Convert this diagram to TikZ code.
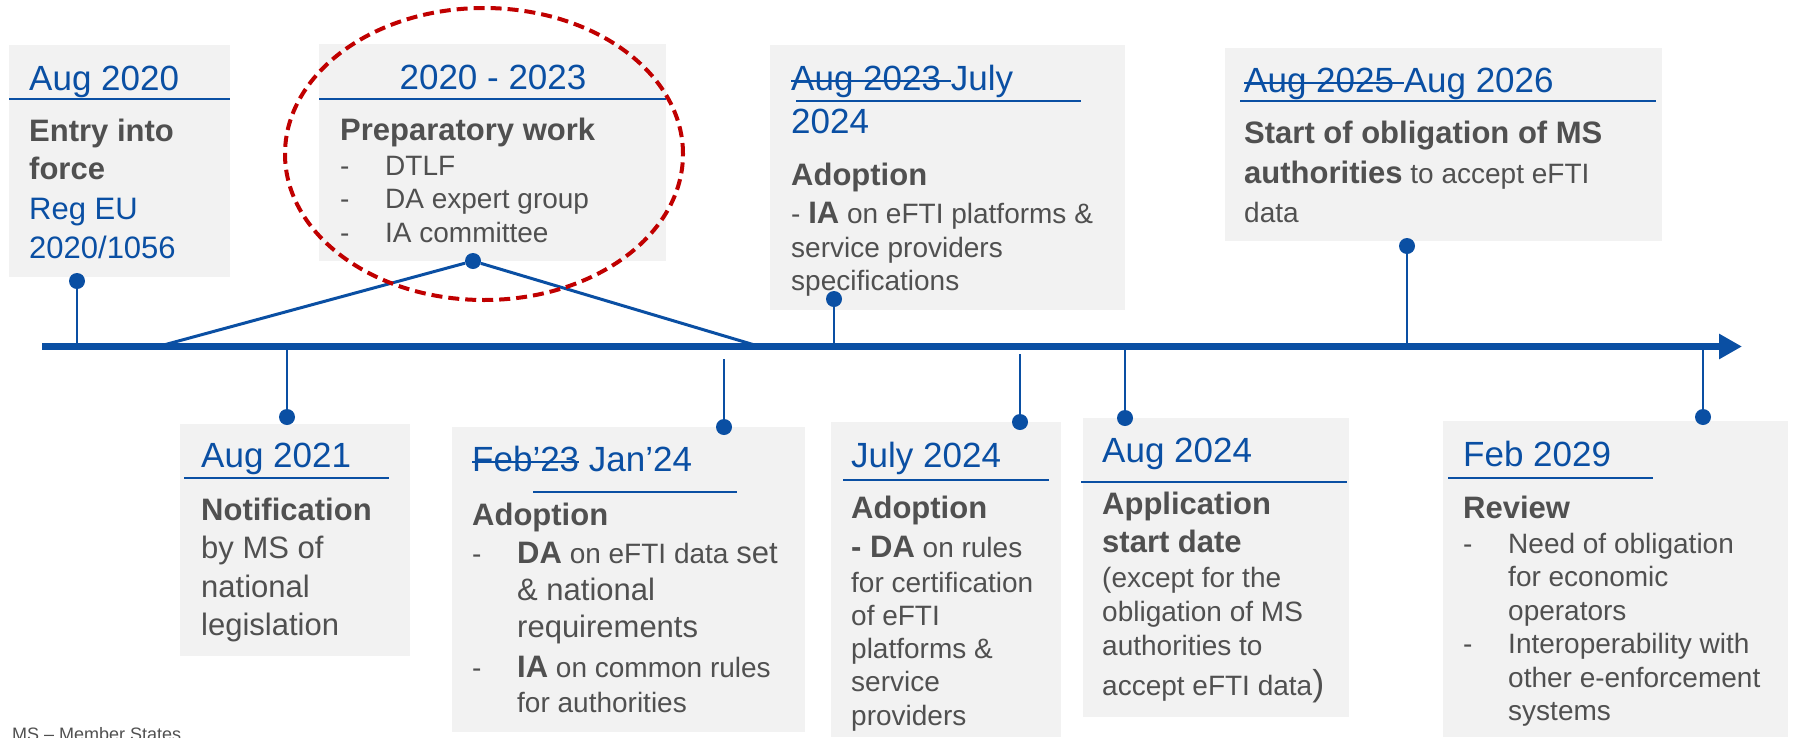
\documentclass[tikz,border=0pt]{standalone}
\usepackage{fontspec}
\setmainfont{Liberation Sans}
\usetikzlibrary{arrows.meta,shapes.geometric}
\definecolor{eblue}{HTML}{0A4FA3}
\definecolor{tgray}{HTML}{505050}
\definecolor{boxgray}{HTML}{F2F2F2}
\definecolor{ered}{HTML}{C00000}
\newcommand\bigbold[1]{{\bfseries\fontsize{31}{38}\selectfont #1}}
\newsavebox\strikebox
\newcommand\strikeout[1]{\sbox\strikebox{#1}\rlap{\rule[0.24em]{\wd\strikebox}{1.8pt}}\usebox\strikebox}
\begin{document}
\begin{tikzpicture}[x=1pt,y=-1pt,
  tbox/.style={fill=boxgray, draw=none, anchor=north west, inner sep=0pt, outer sep=0pt},
  ttl/.style={anchor=base west, inner sep=0pt, text=eblue, font=\fontsize{35}{43}\selectfont},
  hd/.style={anchor=base west, inner sep=0pt, text=tgray, font=\bfseries\fontsize{31}{38}\selectfont},
  bd/.style={anchor=base west, inner sep=0pt, text=tgray, font=\fontsize{28}{33.5}\selectfont},
  bdl/.style={anchor=base west, inner sep=0pt, text=tgray, font=\fontsize{31}{38.5}\selectfont},
  uline/.style={draw=eblue, line width=2pt},
  stem/.style={draw=eblue, line width=2.5pt},
  dot/.style={circle, fill=eblue, inner sep=0pt, minimum size=16pt},
]
\path[use as bounding box] (0,0) rectangle (1796,737);

% ---------- boxes ----------
\node[tbox, minimum width=221pt, minimum height=232pt] (box1) at (9,45) {};
\node[tbox, minimum width=347pt, minimum height=217pt] (box2) at (319,44) {};
\node[tbox, minimum width=355pt, minimum height=265pt] (box3) at (770,45) {};
\node[tbox, minimum width=437pt, minimum height=193pt] (box4) at (1225,48) {};
\node[tbox, minimum width=230pt, minimum height=232pt] (box5) at (180,424) {};
\node[tbox, minimum width=353pt, minimum height=305pt] (box6) at (452,427) {};
\node[tbox, minimum width=230pt, minimum height=315pt] (box7) at (831,422) {};
\node[tbox, minimum width=266pt, minimum height=299pt] (box8) at (1083,418) {};
\node[tbox, minimum width=345pt, minimum height=316pt] (box9) at (1443,421) {};

% ---------- box 1 ----------
\node[ttl] (t1) at (29,90) {Aug 2020};
\draw[uline] (9,99) -- (230,99);
\node[hd] (b1a) at (29,141) {Entry into};
\node[hd] (b1b) at (29,179) {force};
\node[bdl, text=eblue] (b1c) at (29,219) {Reg EU};
\node[bdl, text=eblue] (b1d) at (29,258) {2020/1056};

% ---------- box 2 ----------
\node[ttl, anchor=base] (t2) at (493,89) {2020 - 2023};
\draw[uline] (319,99) -- (666,99);
\node[hd] (h2) at (340,140) {Preparatory work};
\node[bd] (d2a) at (340,175) {-};
\node[bd] (d2b) at (340,208.5) {-};
\node[bd] (d2c) at (340,242) {-};
\node[bd] (b2a) at (385,175) {DTLF};
\node[bd] (b2b) at (385,208.5) {DA expert group};
\node[bd] (b2c) at (385,242) {IA committee};

% ---------- box 3 ----------
\node[ttl] (t3a) at (791,90) {\strikeout{Aug 2023 }July};
\node[ttl] (t3b) at (791,133) {2024};
\draw[uline] (796,101) -- (1081,101);
\node[hd] (h3) at (791,185) {Adoption};
\node[bd] (b3a) at (791,223) {- \bigbold{IA} on eFTI platforms \&};
\node[bd] (b3b) at (791,257) {service providers};
\node[bd] (b3c) at (791,290) {specifications};

% ---------- box 4 ----------
\node[ttl] (t4) at (1244,92) {\strikeout{Aug 2025 }Aug 2026};
\draw[uline] (1240,101) -- (1656,101);
\node[hd] (h4) at (1244,143) {Start of obligation of MS};
\node[bd] (b4a) at (1244,183) {\bigbold{authorities} to accept eFTI};
\node[bd] (b4b) at (1244,222) {data};

% ---------- box 5 ----------
\node[ttl] (t5) at (201,467) {Aug 2021};
\draw[uline] (184,478) -- (389,478);
\node[hd] (h5) at (201,520) {Notification};
\node[bdl] (b5a) at (201,558.5) {by MS of};
\node[bdl] (b5b) at (201,597) {national};
\node[bdl] (b5c) at (201,635.5) {legislation};

% ---------- box 6 ----------
\node[ttl] (t6) at (472,471) {\strikeout{Feb’23} Jan’24};
\draw[uline] (533,492) -- (737,492);
\node[hd] (h6) at (472,525) {Adoption};
\node[bd] (d6a) at (472,563) {-};
\node[bd] (d6b) at (472,677) {-};
\node[bd] (b6a) at (517,563) {\bigbold{DA} on eFTI data {\fontsize{31}{38}\selectfont set}};
\node[bdl] (b6b) at (517,600) {\& national};
\node[bdl] (b6c) at (517,637) {requirements};
\node[bd] (b6d) at (517,677) {\bigbold{IA} on common rules};
\node[bd] (b6e) at (517,712) {for authorities};

% ---------- box 7 ----------
\node[ttl] (t7) at (851,467) {July 2024};
\draw[uline] (843,480) -- (1049,480);
\node[hd] (h7) at (851,518) {Adoption};
\node[bd] (b7a) at (851,557) {\bigbold{- DA} on rules};
\node[bd] (b7b) at (851,592) {for certification};
\node[bd] (b7c) at (851,625.3) {of eFTI};
\node[bd] (b7d) at (851,658.6) {platforms \&};
\node[bd] (b7e) at (851,691.9) {service};
\node[bd] (b7f) at (851,725.2) {providers};

% ---------- box 8 ----------
\node[ttl] (t8) at (1102,462) {Aug 2024};
\draw[uline] (1081,482) -- (1347,482);
\node[hd] (h8a) at (1102,514) {Application};
\node[hd] (h8b) at (1102,552) {start date};
\node[bd] (b8a) at (1102,587) {(except for the};
\node[bd] (b8b) at (1102,621) {obligation of MS};
\node[bd] (b8c) at (1102,655) {authorities to};
\node[bd] (b8d) at (1102,695) {accept eFTI data{\fontsize{36}{40}\selectfont)}};

% ---------- box 9 ----------
\node[ttl] (t9) at (1463,466) {Feb 2029};
\draw[uline] (1448,478) -- (1653,478);
\node[hd] (h9) at (1463,518) {Review};
\node[bd] (d9a) at (1463,553) {-};
\node[bd] (d9b) at (1463,653.5) {-};
\node[bd] (b9a) at (1508,553) {Need of obligation};
\node[bd] (b9b) at (1508,586.5) {for economic};
\node[bd] (b9c) at (1508,620) {operators};
\node[bd] (b9d) at (1508,653.5) {Interoperability with};
\node[bd] (b9e) at (1508,687) {other e-enforcement};
\node[bd] (b9f) at (1508,720.5) {systems};

% ---------- footnote ----------
\node[anchor=base west, inner sep=0pt, text=tgray, font=\fontsize{18}{20}\selectfont] (fn) at (12,740) {MS – Member States};

% ---------- timeline ----------
\coordinate (bs) at (42,346.5);
\coordinate (be) at (1742,346.5);
\draw[eblue, line width=7pt, -{Triangle[length=23pt,width=24pt]}] (bs) -- (be);

\node[dot] (p1) at (77,281) {};
\node[dot] (p2) at (473,261) {};
\node[dot] (p3) at (834,299) {};
\node[dot] (p4) at (1407,246) {};
\node[dot] (p5) at (287,417) {};
\node[dot] (p6) at (724,427) {};
\node[dot] (p7) at (1020,422) {};
\node[dot] (p8) at (1125,418) {};
\node[dot] (p9) at (1703,417) {};

\coordinate (a1) at (77,346);
\coordinate (a2l) at (160,346);
\coordinate (a2r) at (758,346);
\coordinate (a3) at (834,346);
\coordinate (a4) at (1407,346);
\coordinate (a5) at (287,346);
\coordinate (a6) at (724,359);
\coordinate (a7) at (1020,354);
\coordinate (a8) at (1125,346);
\coordinate (a9) at (1703,346);

\draw[stem] (p1) -- (a1);
\draw[stem, line width=3pt] (a2l) -- (p2);
\draw[stem, line width=3pt] (p2) -- (a2r);
\draw[stem] (p3) -- (a3);
\draw[stem] (p4) -- (a4);
\draw[stem] (p5) -- (a5);
\draw[stem] (p6) -- (a6);
\draw[stem] (p7) -- (a7);
\draw[stem] (p8) -- (a8);
\draw[stem] (p9) -- (a9);

% ---------- red dashed ellipse ----------
\node[ellipse, draw=ered, line width=4pt, dash pattern=on 11pt off 6pt, inner sep=0pt,
      minimum width=398pt, minimum height=292pt] (ell) at (484,154) {};
\end{tikzpicture}
\end{document}
